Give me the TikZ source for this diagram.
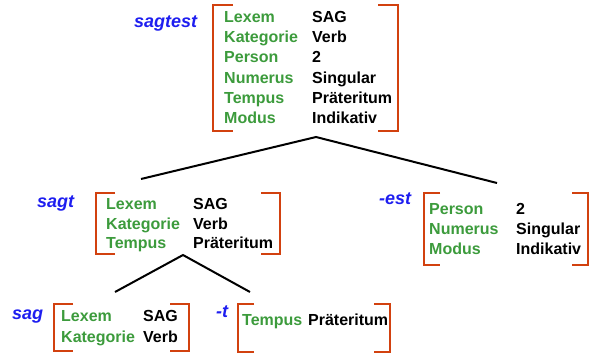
\documentclass[tikz,border=0pt]{standalone}
\usepackage{fontspec}
\setmainfont{Liberation Sans}
\definecolor{brk}{HTML}{D2410F}
\definecolor{feat}{HTML}{3C9B3C}
\definecolor{lbl}{HTML}{1E1EF0}
\begin{document}
\begin{tikzpicture}[x=1pt,y=-1pt,
  bracket/.style={draw=brk,line width=2.6pt,line cap=butt,line join=miter},
  edge/.style={draw=black,line width=2pt},
  fname/.style={anchor=base west,inner sep=0pt,text=feat,font=\fontsize{16}{19}\selectfont\bfseries},
  fval/.style={anchor=base west,inner sep=0pt,text=black,font=\fontsize{16}{19}\selectfont\bfseries},
  wlabel/.style={anchor=base west,inner sep=0pt,text=lbl,font=\fontsize{18}{21}\selectfont\bfseries\itshape}]
\useasboundingbox (0,0) rectangle (599,354);
% ---------- top box: sagtest
\draw[bracket] (233,5) -- (213,5) -- (213,131) -- (233,131);
\draw[bracket] (378,5) -- (398,5) -- (398,131) -- (378,131);
\node[wlabel] (l1) at (134,27) {sagtest};
\foreach \n/\v/\i in {Lexem/SAG/0,Kategorie/Verb/1,Person/2/2,Numerus/Singular/3,Tempus/Präteritum/4,Modus/Indikativ/5}{
  \node[fname] at (224,22.5+20.2*\i) {\n};
  \node[fval] at (312,22.5+20.2*\i) {\v};
}
% ---------- sagt box
\draw[bracket] (115,193) -- (96,193) -- (96,254) -- (115,254);
\draw[bracket] (261,193) -- (280,193) -- (280,254) -- (261,254);
\node[wlabel] (l2) at (37,207) {sagt};
\foreach \n/\v/\i in {Lexem/SAG/0,Kategorie/Verb/1,Tempus/Präteritum/2}{
  \node[fname] at (106,209.5+19.5*\i) {\n};
  \node[fval] at (193,209.5+19.5*\i) {\v};
}
% ---------- -est box
\draw[bracket] (440,193) -- (424,193) -- (424,265) -- (440,265);
\draw[bracket] (572,193) -- (588,193) -- (588,265) -- (572,265);
\node[wlabel] (l3) at (379,204) {-est};
\foreach \n/\v/\i in {Person/2/0,Numerus/Singular/1,Modus/Indikativ/2}{
  \node[fname] at (429,214.5+20*\i) {\n};
  \node[fval] at (516,214.5+20*\i) {\v};
}
% ---------- sag box
\draw[bracket] (73,304) -- (54,304) -- (54,351) -- (73,351);
\draw[bracket] (170,304) -- (189,304) -- (189,351) -- (170,351);
\node[wlabel] (l4) at (12,319) {sag};
\node[fname] at (61,321.5) {Lexem};
\node[fval] at (143,321.5) {SAG};
\node[fname] at (61,342) {Kategorie};
\node[fval] at (143,342) {Verb};
% ---------- -t box
\draw[bracket] (254,304) -- (238,304) -- (238,352) -- (254,352);
\draw[bracket] (374,304) -- (390,304) -- (390,352) -- (374,352);
\node[wlabel] (l5) at (216,317) {-t};
\node[fname] (tn) at (242,325.5) {Tempus};
\node[fval] at (308,325.5) {Präteritum};
% ---------- tree edges
\coordinate (a1) at (316,137);
\coordinate (c1) at (141,179);
\coordinate (c2) at (497,183);
\coordinate (a2) at (183,255);
\coordinate (c3) at (115,292);
\coordinate (c4) at (250,292);
\draw[edge] (c1) -- (a1) -- (c2);
\draw[edge] (c3) -- (a2) -- (c4);
\end{tikzpicture}
\end{document}
